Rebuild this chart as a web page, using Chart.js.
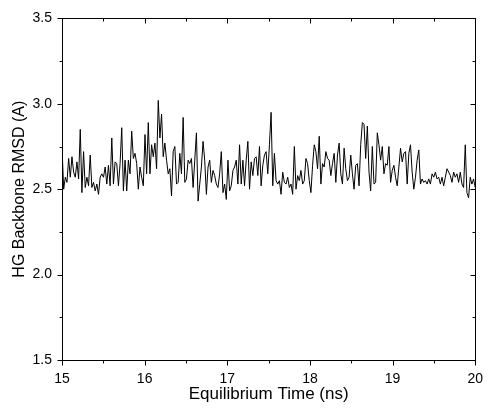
<!DOCTYPE html>
<html>
<head>
<meta charset="utf-8">
<script src="https://cdn.jsdelivr.net/npm/chart.js@4/dist/chart.umd.min.js"></script>
<style>
  body { margin: 0; background: #fff; }
  canvas { display: block; }
</style>
</head>
<body>
<canvas id="rmsdChart" width="494" height="414"></canvas>
<script>
// -----------------------------
// Data
// -----------------------------
const startTime = 15;   // ns
const endTime = 20;     // ns

// HG backbone RMSD (A), sampled evenly from 15 to 20 ns
const rmsd1 = [2.75,2.50,2.57,2.54,2.68,2.57,2.69,2.60,2.57,2.66,2.56,2.85,2.48,2.72,2.51,2.57,2.52,2.70,2.51,2.54,
  2.49,2.53,2.47,2.57,2.59,2.57,2.63,2.53,2.64,2.52,2.80,2.53,2.66,2.65,2.52,2.65,2.86,2.49,2.67,2.49,
  2.67,2.59,2.84,2.68,2.71,2.65,2.50,2.63,2.57,2.52,2.82,2.59,2.89,2.59,2.76,2.69,2.77,2.62,3.02];
const rmsd2 = [2.80,2.94,2.69,2.77,2.67,2.59,2.62,2.46,2.72,2.75,2.53,2.54,2.71,2.59,2.92,2.54,2.56,2.67,2.65,2.68,
  2.51,2.67,2.83,2.43,2.53,2.63,2.78,2.67,2.47,2.63,2.67,2.54,2.61,2.58,2.53,2.51,2.59,2.72,2.48,2.53,
  2.44,2.67,2.49,2.52,2.61,2.63,2.67,2.53,2.76,2.53,2.67,2.52,2.67,2.78,2.50,2.66,2.58,2.68,2.69,2.58,
  2.75,2.52,2.64,2.70];
const rmsd3 = [2.72,2.59,2.76,2.95,2.52,2.71,2.55,2.53,2.55,2.47,2.60,2.54,2.53,2.57,2.51,2.53,2.47,2.75,2.50,2.58,
  2.55,2.61,2.53,2.55,2.68,2.65,2.55,2.48,2.64,2.76,2.72,2.62,2.81,2.53,2.65,2.63,2.72,2.68,2.67,2.58,
  2.65,2.71,2.54,2.70,2.77,2.59,2.53,2.74,2.62,2.55,2.57,2.70,2.59,2.50,2.64,2.65,2.52,2.76,2.89,2.88,
  2.68,2.87,2.60];
const rmsd4 = [2.49,2.75,2.53,2.54,2.83,2.76,2.67,2.75,2.59,2.65,2.64,2.75,2.54,2.61,2.64,2.57,2.52,2.63,2.74,2.66,
  2.71,2.72,2.53,2.71,2.76,2.60,2.50,2.57,2.67,2.73,2.53,2.56,2.54,2.55,2.53,2.56,2.53,2.59,2.57,2.60,
  2.56,2.57,2.53,2.57,2.52,2.57,2.62,2.60,2.58,2.54,2.60,2.57,2.59,2.54,2.60,2.53,2.51,2.76,2.48,2.45,
  2.57,2.53,2.56,2.51];

const rmsd = rmsd1.concat(rmsd2, rmsd3, rmsd4);

// Axis ticks
const xMin = 15, xMax = 20, xMinorStep = 0.5;
const yMin = 1.5, yMax = 3.5, yMinorStep = 0.25;

// Build {x, y} points on an even time grid
const dt = (endTime - startTime) / (rmsd.length - 1);
const points = rmsd.map((v, i) => ({ x: startTime + i * dt, y: v }));

// -----------------------------
// Frame + tick marks (Origin style)
// -----------------------------
function isMajor(value, step) {
  const r = value / step;
  return Math.abs(r - Math.round(r)) < 1e-6;
}

const frameTicks = {
  id: "frameTicks",
  afterDraw(chart) {
    const { ctx, chartArea: a, scales: { x, y } } = chart;
    ctx.save();
    ctx.strokeStyle = "#000";
    ctx.lineWidth = 1;
    ctx.strokeRect(Math.round(a.left) + 0.5, Math.round(a.top) + 0.5,
      Math.round(a.right - a.left), Math.round(a.bottom - a.top));

    const seg = (x1, y1, x2, y2) => {
      ctx.beginPath();
      ctx.moveTo(x1, y1);
      ctx.lineTo(x2, y2);
      ctx.stroke();
    };

    const bottom = Math.round(a.bottom) + 0.5;
    const top = Math.round(a.top) + 0.5;
    const left = Math.round(a.left) + 0.5;
    const right = Math.round(a.right) + 0.5;

    x.ticks.forEach(t => {
      const px = Math.round(x.getPixelForValue(t.value)) + 0.5;
      const len = isMajor(t.value, 1) ? 5 : 3;
      seg(px, bottom, px, bottom + len);
      seg(px, top, px, top + len);
    });
    y.ticks.forEach(t => {
      const py = Math.round(y.getPixelForValue(t.value)) + 0.5;
      const len = isMajor(t.value, 0.5) ? 5 : 3;
      seg(left, py, left - len, py);
      seg(right, py, right - len, py);
    });
    ctx.restore();
  }
};

// -----------------------------
// Chart.js Graph
// -----------------------------
const ctx = document.getElementById("rmsdChart").getContext("2d");

new Chart(ctx, {
  type: "line",
  data: {
    datasets: [
      {
        label: "HG Backbone RMSD",
        data: points,
        borderColor: "#000",
        borderWidth: 1,
        pointRadius: 0,
        tension: 0,
        fill: false
      }
    ]
  },
  options: {
    responsive: false,
    animation: false,
    layout: { padding: { left: 0, right: 10, top: 18, bottom: 0 } },
    plugins: {
      legend: { display: false },
      tooltip: { enabled: false }
    },
    scales: {
      x: {
        type: "linear",
        min: xMin,
        max: xMax,
        afterFit: s => { s.height = 54; },
        grid: { display: false, drawTicks: false },
        border: { display: false },
        ticks: {
          stepSize: xMinorStep,
          autoSkip: false,
          maxRotation: 0,
          padding: 11,
          color: "#000",
          font: { family: "Liberation Sans", size: 14 },
          callback: v => (isMajor(v, 1) ? String(v) : "")
        },
        title: {
          display: true,
          text: "Equilibrium Time (ns)",
          color: "#000",
          font: { family: "Liberation Sans", size: 17 },
          padding: { top: 0, bottom: 9 }
        }
      },
      y: {
        min: yMin,
        max: yMax,
        afterFit: s => { s.width = 62; },
        grid: { display: false, drawTicks: false },
        border: { display: false },
        ticks: {
          stepSize: yMinorStep,
          autoSkip: false,
          padding: 10,
          color: "#000",
          font: { family: "Liberation Sans", size: 14 },
          callback: v => (isMajor(v, 0.5) ? v.toFixed(1) : "")
        },
        title: {
          display: true,
          text: "HG Backbone RMSD (A)",
          color: "#000",
          font: { family: "Liberation Sans", size: 16 },
          padding: { top: 10, bottom: 0 }
        }
      }
    }
  },
  plugins: [frameTicks]
});
</script>
</body>
</html>
